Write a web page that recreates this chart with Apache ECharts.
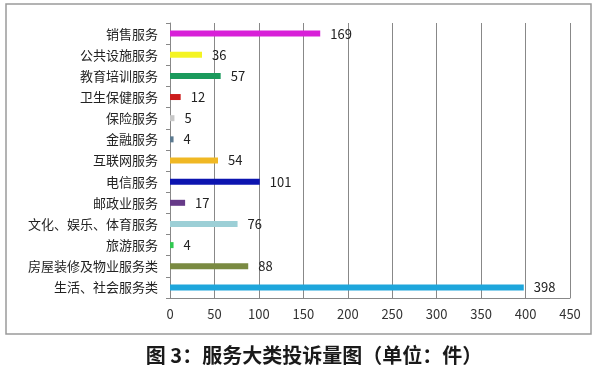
<!DOCTYPE html>
<html><head><meta charset="utf-8">
<script src="https://cdn.jsdelivr.net/npm/echarts@6/dist/echarts.min.js"></script>
<style>html,body{margin:0;padding:0;background:#fff}#c{width:600px;height:371px}</style>
</head><body><div id="c"></div>
<script>
const categories = ['销售服务','公共设施服务','教育培训服务','卫生保健服务','保险服务','金融服务','互联网服务','电信服务','邮政业服务','文化、娱乐、体育服务','旅游服务','房屋装修及物业服务类','生活、社会服务类'];
const values = [169,36,57,12,5,4,54,101,17,76,4,88,398];
const colors = ['#d820d8','#f4f422','#1a9a5c','#cc1c1c','#c8c8c8','#5c7a90','#f0b824','#0c14b0','#663a88','#9ccfd6','#30c850','#7a8a42','#1ea6dc'];
const xTicks = [0,50,100,150,200,250,300,350,400,450];

const chart = echarts.init(document.getElementById('c'));
chart.setOption({
  animation:false,
  backgroundColor:'#fff',
  grid:{left:170,right:30,top:23,bottom:73,containLabel:false},
  graphic:[
    {type:'rect',shape:{x:6,y:4,width:585,height:330},style:{fill:'none',stroke:'#9a9a9a',lineWidth:1.5},z:-1},
    {type:'text',x:314,y:345,style:{text:'图 3：服务大类投诉量图（单位：件）',font:'bold 20px "Noto Sans CJK SC"',fill:'#1a1a1a',align:'center'}}
  ],
  xAxis:{type:'value',min:xTicks[0],max:xTicks[xTicks.length-1],interval:50,
    axisLine:{show:true,lineStyle:{color:'#888'}},axisTick:{show:false},
    splitLine:{show:true,lineStyle:{color:'#888',width:1}},
    axisLabel:{color:'#333',fontSize:13,margin:10,fontFamily:'"Noto Sans CJK SC"'}},
  yAxis:{type:'category',inverse:true,data:categories,
    axisLine:{show:true,lineStyle:{color:'#888'}},
    axisTick:{show:true,length:4,lineStyle:{color:'#888'}},
    axisLabel:{color:'#222',fontSize:13,margin:12,fontFamily:'"Noto Sans CJK SC"'}},
  series:[{type:'bar',barWidth:6,
    data:values.map((v,i)=>({value:v,itemStyle:{color:colors[i]}})),
    label:{show:true,position:'right',distance:10,color:'#222',fontSize:13,fontFamily:'"Noto Sans CJK SC"'}}]
});
</script></body></html>
